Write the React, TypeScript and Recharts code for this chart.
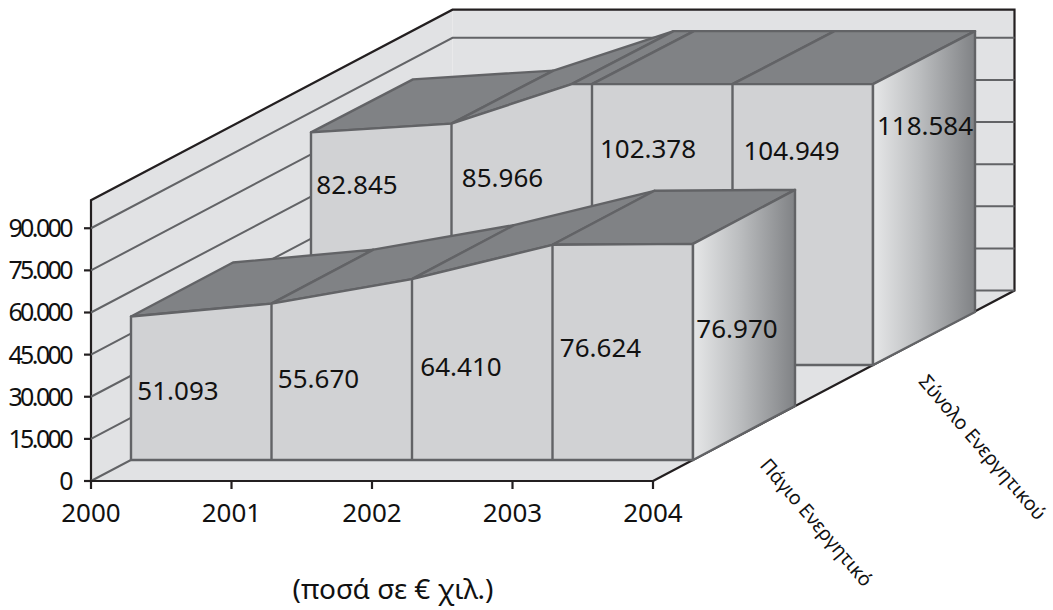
import React from 'react';
import { ComposedChart, Line, XAxis, YAxis, ReferenceArea, CartesianGrid } from 'recharts';

const years = [2000, 2001, 2002, 2003, 2004];
const fixedAssets = [51093, 55670, 64410, 76624, 76970];
const totalAssets = [82845, 85966, 102378, 104949, 118584];
const yTicks = [0, 15000, 30000, 45000, 60000, 75000, 90000];
const axisMax = 100000;
const seriesNames = { fixed: 'Πάγιο Ενεργητικό', total: 'Σύνολο Ενεργητικού' };
const caption = '(ποσά σε € χιλ.)';

const rows = years.map((year, i) => ({ year, fixed: fixedAssets[i], total: totalAssets[i] }));

const FONT = '"Noto Sans", sans-serif';
const INK = '#231f20';
const EDGE = '#626366';
const WALL = '#e1e2e4';
const FRONT = '#d1d2d4';
const TOP = '#808285';
const WALL_DEPTH = { x: 361.5, y: -190.5 };
const fmt = (v: number) => v.toLocaleString('de-DE');
const poly = (p: { x: number; y: number }[]) => p.map((q) => `${q.x},${q.y}`).join(' ');

const Frame = (props: any) => {
  const { x, y, width, height } = props;
  const l = x, r = x + width, t = y, b = y + height;
  const d = WALL_DEPTH;
  return (
    <g>
      <polygon points={`${l},${b} ${l},${t} ${l + d.x},${t + d.y} ${l + d.x},${b + d.y}`} fill={WALL} />
      <polygon points={`${l + d.x},${t + d.y} ${r + d.x},${t + d.y} ${r + d.x},${b + d.y} ${l + d.x},${b + d.y}`} fill={WALL} />
      <polygon points={`${l},${b} ${r},${b} ${r + d.x},${b + d.y} ${l + d.x},${b + d.y}`} fill={WALL} />
      <polyline
        points={`${l},${b} ${l},${t} ${l + d.x},${t + d.y} ${r + d.x},${t + d.y} ${r + d.x},${b + d.y} ${r},${b}`}
        fill="none"
        stroke={INK}
        strokeWidth={2.2}
      />
    </g>
  );
};

const gridLine = (props: any) => {
  const { x1, x2, y1, key, y } = props;
  const d = WALL_DEPTH;
  if (y1 <= y + 1) return <g key={key} />;
  return (
    <polyline
      key={key}
      points={`${x1},${y1} ${x1 + d.x},${y1 + d.y} ${x2 + d.x},${y1 + d.y}`}
      fill="none"
      stroke={EDGE}
      strokeWidth={2}
    />
  );
};

const makeBox = (
  key: 'fixed' | 'total',
  shift: { x: number; y: number },
  depth: { x: number; y: number },
  labelNudge: number[][],
  nameNudge: { x: number; y: number; },
  gradId: string,
) => (props: any) => {
  const { index, points } = props;
  if (index !== 0 || !points) return <g key={`${key}-${index}`} />;
  const pts = points as any[];
  const v0 = pts[0].payload[key];
  const v1 = pts[1].payload[key];
  const slope = (pts[1].y - pts[0].y) / (v1 - v0);
  const pixel = (v: number) => pts[0].y + slope * (v - v0);
  const capY = pixel(axisMax) + shift.y;
  const baseY = pixel(0) + shift.y;

  const at = pts.map((p) => ({ x: p.x + shift.x, y: p.y + shift.y }));
  const profile: { x: number; y: number; data: boolean }[] = [];
  at.forEach((p, i) => {
    if (i > 0) {
      const q = at[i - 1];
      if ((q.y - capY) * (p.y - capY) < 0) {
        profile.push({ x: q.x + ((capY - q.y) / (p.y - q.y)) * (p.x - q.x), y: capY, data: false });
      }
    }
    profile.push({ x: p.x, y: Math.max(p.y, capY), data: true });
  });
  const first = profile[0];
  const last = profile[profile.length - 1];
  const back = (p: { x: number; y: number }) => ({ x: p.x + depth.x, y: p.y + depth.y });
  const stroke = { stroke: EDGE, strokeWidth: 2.4, strokeLinejoin: 'round' as const };

  return (
    <g key={`${key}-box`}>
      <defs>
        <linearGradient id={gradId} x1="0" y1="0" x2="1" y2="0">
          <stop offset="0%" stopColor="#e6e7e8" />
          <stop offset="45%" stopColor="#bcbec0" />
          <stop offset="100%" stopColor="#808285" />
        </linearGradient>
      </defs>
      {profile.slice(0, -1).map((p, i) => {
        const q = profile[i + 1];
        return <polygon key={`t${i}`} points={poly([p, q, back(q), back(p)])} fill={TOP} {...stroke} />;
      })}
      <polygon
        points={poly([{ x: first.x, y: baseY }, ...profile, { x: last.x, y: baseY }])}
        fill={FRONT}
        {...stroke}
      />
      {profile
        .filter((p) => p.data)
        .slice(1, -1)
        .map((p, i) => (
          <line key={`v${i}`} x1={p.x} y1={p.y} x2={p.x} y2={baseY} {...stroke} />
        ))}
      <polygon
        points={poly([last, back(last), back({ x: last.x, y: baseY }), { x: last.x, y: baseY }])}
        fill={`url(#${gradId})`}
        {...stroke}
      />
      {pts.map((p, i) => (
        <text
          key={`l${i}`}
          x={at[i].x + labelNudge[i][0]}
          y={Math.max(at[i].y, capY) + labelNudge[i][1]}
          textAnchor="middle"
          dominantBaseline="central"
          fontFamily={FONT}
          fontSize={26}
          fill="#111"
        >
          {fmt(p.payload[key])}
        </text>
      ))}
      <text
        transform={`translate(${last.x + nameNudge.x},${baseY + nameNudge.y}) rotate(49.5)`}
        textAnchor="middle"
        dominantBaseline="central"
        fontFamily={FONT}
        fontSize={19.5}
        fill="#111"
      >
        {seriesNames[key]}
      </text>
    </g>
  );
};

const totalBox = makeBox(
  'total',
  { x: 220, y: -116 },
  { x: 102, y: -53 },
  [[46, 52], [51, 53], [56, 64], [59, 66], [52, 41]],
  { x: 110, y: 82 },
  'sideTotal',
);
const fixedBox = makeBox(
  'fixed',
  { x: 40, y: -21 },
  { x: 102, y: -54 },
  [[47, 73], [47, 74], [49, 87], [48, 102], [44, 84]],
  { x: 124, y: 62 },
  'sideFixed',
);

export default function App() {
  return (
    <div style={{ position: 'absolute', left: 0, top: 0, width: 1053, height: 610, background: '#fff' }}>
      <ComposedChart
        width={1053}
        height={610}
        data={rows}
        margin={{ top: 144, right: 400, bottom: 89, left: 11 }}
      >
        <ReferenceArea x1={2000} x2={2004} y1={0} y2={axisMax} shape={Frame} ifOverflow="visible" zIndex={-200} />
        <CartesianGrid vertical={false} horizontal={gridLine} />
        <XAxis
          dataKey="year"
          type="number"
          domain={[2000, 2004]}
          ticks={years}
          tickFormatter={(v: number) => String(v)}
          height={40}
          tickSize={8}
          tickMargin={15}
          interval={0}
          stroke={INK}
          strokeWidth={2.2}
          tick={{ fontFamily: FONT, fontSize: 26, fill: '#111' }}
          label={{
            value: caption,
            position: 'bottom',
            offset: 58,
            dx: 21,
            fontFamily: FONT,
            fontSize: 28,
            fill: '#111',
          }}
        />
        <YAxis
          type="number"
          domain={[0, 120000]}
          ticks={yTicks}
          tickFormatter={fmt}
          width={80}
          axisLine={false}
          tickSize={7}
          tickMargin={13}
          interval={0}
          stroke={INK}
          strokeWidth={2.2}
          tick={{ fontFamily: FONT, fontSize: 25, letterSpacing: -2.6, fill: '#111' }}
        />
        <Line dataKey="total" stroke="none" dot={totalBox} activeDot={false} isAnimationActive={false} legendType="none" />
        <Line dataKey="fixed" stroke="none" dot={fixedBox} activeDot={false} isAnimationActive={false} legendType="none" />
      </ComposedChart>
    </div>
  );
}
